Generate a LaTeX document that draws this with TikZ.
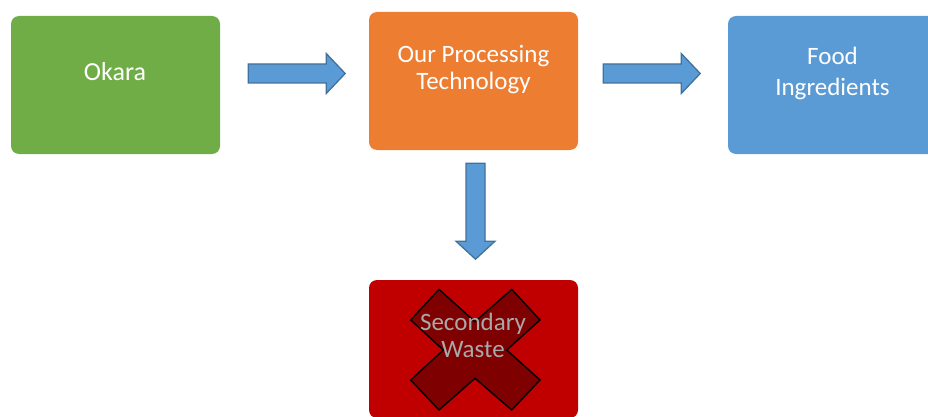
\documentclass[tikz,border=0pt]{standalone}
\usepackage{fontspec}
\setmainfont{Carlito}

\definecolor{okgreen}{HTML}{70AD47}
\definecolor{procorange}{HTML}{ED7D31}
\definecolor{foodblue}{HTML}{5B9BD5}
\definecolor{wastered}{HTML}{C00000}
\definecolor{crossred}{HTML}{7F0000}
\definecolor{arrowline}{HTML}{41719C}
\definecolor{wastetext}{HTML}{A9A9A9}

\tikzset{
  stagebox/.style={rectangle, rounded corners=8pt, draw=none,
    minimum width=209pt, minimum height=138pt, inner sep=0pt},
  stagetext/.style={text=white, align=center, inner sep=0pt,
    font=\fontsize{25}{27.5}\selectfont},
  flowarrow/.style={draw=arrowline, fill=foodblue, line width=1.3pt,
    line join=miter},
  crossmark/.style={fill=crossred, draw=black, line width=1.4pt,
    line join=miter}
}

\begin{document}
\begin{tikzpicture}[x=1pt, y=-1pt]
  \useasboundingbox (0,0) rectangle (928,417);

  % process stages
  \node[stagebox, fill=okgreen]    (okara) at (115.5,85)  {};
  \node[stagebox, fill=procorange] (proc)  at (473.5,81)  {};
  \node[stagebox, fill=foodblue]   (food)  at (832.5,85)  {};
  \node[stagebox, fill=wastered]   (waste) at (473.5,349) {};

  % stage labels
  \node[stagetext, font=\fontsize{26}{28}\selectfont] (okaratxt) at (115,72) {Okara};
  \node[stagetext] (proctxt) at (473.5,69.3) {Our Processing\\Technology};
  \node[stagetext, font=\fontsize{25}{31.7}\selectfont] (foodtxt) at (832.5,73.4) {Food\\Ingredients};

  % block arrows between stages (start of each shaft, on its axis)
  \coordinate (a1) at ([xshift=28pt,yshift=11.5pt]okara.east);
  \coordinate (a2) at ([xshift=25pt,yshift=7.5pt]proc.east);
  \coordinate (a3) at ([xshift=2pt,yshift=-13pt]proc.south);

  \draw[flowarrow] (a1) ++(0,-9.5) -- ++(78,0) -- ++(0,-10.5) -- ++(19,20)
    -- ++(-19,20) -- ++(0,-10.5) -- ++(-78,0) -- cycle;
  \draw[flowarrow] (a2) ++(0,-9.5) -- ++(78,0) -- ++(0,-10.5) -- ++(19,20)
    -- ++(-19,20) -- ++(0,-10.5) -- ++(-78,0) -- cycle;
  \draw[flowarrow] (a3) ++(-9.5,0) -- ++(0,78) -- ++(-10,0) -- ++(19.5,18)
    -- ++(19.5,-18) -- ++(-10,0) -- ++(0,-78) -- cycle;

  % cross over the rejected output
  \draw[crossmark]
    (410.7,320) -- (439,289.3) -- (475,321.7) -- (511.7,289.3) -- (540,320)
    -- (506.7,350) -- (540,380) -- (511.7,410) -- (475,378.3) -- (439,410)
    -- (410.7,380) -- (443.3,350) -- cycle;

  \node[stagetext, text=wastetext] (wastetxt) at (473,335.5) {Secondary\\Waste};
\end{tikzpicture}
\end{document}
